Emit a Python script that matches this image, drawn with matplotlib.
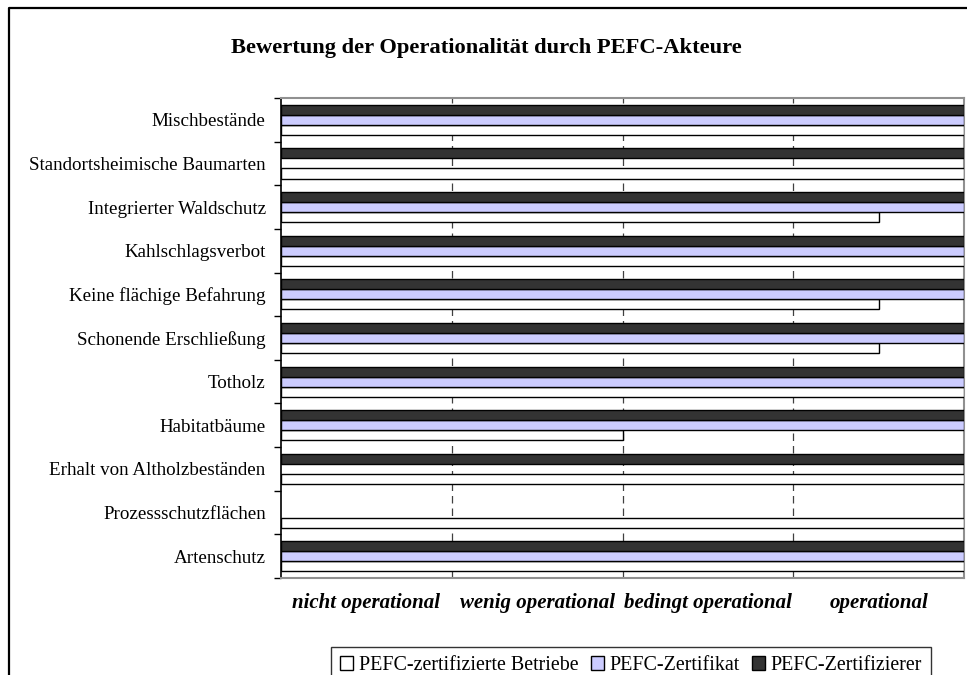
import matplotlib
matplotlib.use('Agg')
import matplotlib.pyplot as plt
from matplotlib.lines import Line2D
import numpy as np

# categories, top to bottom as in the chart
categories = ["Mischbestände", "Standortsheimische Baumarten", "Integrierter Waldschutz",
              "Kahlschlagsverbot", "Keine flächige Befahrung", "Schonende Erschließung",
              "Totholz", "Habitatbäume", "Erhalt von Altholzbeständen",
              "Prozessschutzflächen", "Artenschutz"]
# 0 = none .. 4 = operational
betriebe     = [4, 4, 3.5, 4, 3.5, 3.5, 4, 2, 4, 4, 4]
zertifikat   = [4, 0, 4,   4, 4,   4,   4, 4, 0, 0, 4]
zertifizierer= [4, 4, 4,   4, 4,   4,   4, 4, 4, 0, 4]
series_names = ["PEFC-zertifizierte Betriebe", "PEFC-Zertifikat", "PEFC-Zertifizierer"]
scale_labels = ["nicht operational", "wenig operational", "bedingt operational", "operational"]

serif = ['Liberation Serif', 'DejaVu Serif']
plt.rcParams['font.family'] = serif

fig = plt.figure(figsize=(9.67, 6.75), dpi=100)
ax = fig.add_axes([281/967, 1-578/675, (964-281)/967, (578-98)/675])

y = np.arange(len(categories))
h = 0.23

def edges(vals):
    # no outline for empty bars
    return ['black' if v > 0 else 'none' for v in vals]

ax.barh(y + h, betriebe, h, color='white', edgecolor=edges(betriebe), lw=1.0,
        label=series_names[0], zorder=3)
ax.barh(y, zertifikat, h, color='#CCCCFF', edgecolor=edges(zertifikat), lw=1.0,
        label=series_names[1], zorder=3)
ax.barh(y - h, zertifizierer, h, color='#333333', edgecolor=edges(zertifizierer), lw=1.0,
        label=series_names[2], zorder=3)

ax.set_xlim(0, 4)
ax.set_ylim(len(categories) - 0.5, -0.5)

# gridlines at scale boundaries
ax.set_xticks([1, 2, 3])
ax.set_xticklabels([])
ax.tick_params(axis='x', length=0)
ax.grid(axis='x', color='#404040', ls=(0, (6, 4)), lw=0.9, zorder=0)

# scale labels between the gridlines
ax.set_xticks([0.5, 1.5, 2.5, 3.5], minor=True)
ax.set_xticklabels(scale_labels, minor=True, fontsize=15, fontweight='bold', style='italic')
ax.tick_params(axis='x', which='minor', length=0, pad=11)

# category ticks on group boundaries, labels in the middle
ax.set_yticks(np.arange(len(categories) + 1) - 0.5)
ax.set_yticklabels([])
ax.tick_params(axis='y', which='major', length=5, width=1, color='black', direction='out')
ax.set_yticks(y, minor=True)
ax.set_yticklabels(categories, minor=True, fontsize=13.7)
ax.tick_params(axis='y', which='minor', length=0, pad=11)

for s in ['top', 'right', 'bottom']:
    ax.spines[s].set_color('#909090')
    ax.spines[s].set_linewidth(1.5)
ax.spines['left'].set_color('black')
ax.spines['left'].set_linewidth(1.2)

fig.text(486/967, 1-48/675, "Bewertung der Operationalität durch PEFC-Akteure",
         ha='center', va='center', fontsize=16.2, fontweight='bold')

handles, labels = ax.get_legend_handles_labels()
leg = fig.legend(handles, labels, loc='upper center', bbox_to_anchor=(631/967, 1-647/675),
                 ncol=3, fontsize=14.4, frameon=True, fancybox=False, edgecolor='black',
                 handlelength=0.65, handleheight=0.65, handletextpad=0.3, columnspacing=0.6,
                 borderpad=0.45, borderaxespad=0)
leg.get_frame().set_linewidth(1.0)

# outer chart frame (left and top edges visible)
fig.add_artist(Line2D([9/967, 9/967, 1], [0, 1-8/675, 1-8/675], transform=fig.transFigure,
                      color='black', lw=1.6))

fig.savefig('out.png', dpi=100)
